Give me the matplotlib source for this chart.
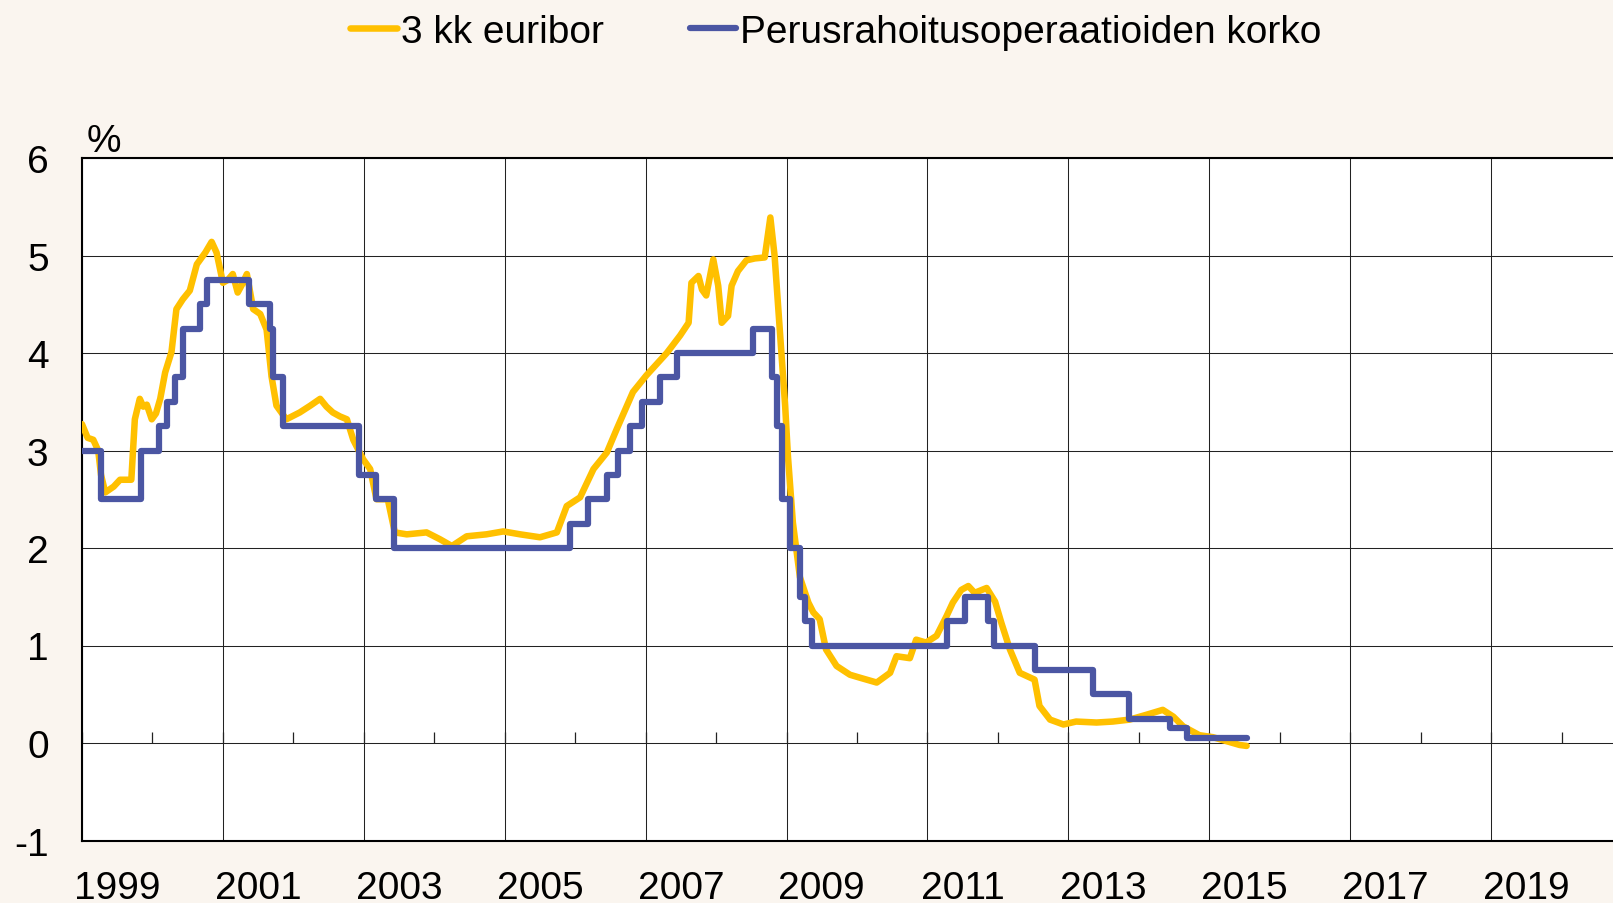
# --------------------------------------------------
# 3 kk euribor vs. EKP:n perusrahoitusoperaatioiden korko
# --------------------------------------------------

import matplotlib
matplotlib.use("Agg")
import matplotlib.pyplot as plt
import pandas as pd


# --------------------------------------------------
# DATA
# --------------------------------------------------

# 3 kk euribor (decimal year, %)
euribor_t = [
    1999.00, 1999.08, 1999.16, 1999.23, 1999.27, 1999.33, 1999.45, 1999.54,
    1999.70, 1999.75, 1999.82, 1999.87, 1999.92, 1999.99, 2000.05, 2000.11,
    2000.18, 2000.27, 2000.34, 2000.43, 2000.53, 2000.63, 2000.75, 2000.84,
    2000.91, 2001.00, 2001.07, 2001.14, 2001.21, 2001.27, 2001.34, 2001.43,
    2001.53, 2001.62, 2001.69, 2001.76, 2001.90, 2002.09, 2002.24, 2002.38,
    2002.47, 2002.56, 2002.66, 2002.76, 2002.85, 2002.99, 2003.09, 2003.18,
    2003.34, 2003.44, 2003.61, 2003.89, 2004.08, 2004.25, 2004.46, 2004.74,
    2004.98, 2005.22, 2005.50, 2005.74, 2005.88, 2006.07, 2006.26, 2006.45,
    2006.59, 2006.82, 2007.01, 2007.30, 2007.49, 2007.61, 2007.65, 2007.75,
    2007.80, 2007.86, 2007.96, 2008.03, 2008.08, 2008.17, 2008.22, 2008.31,
    2008.43, 2008.55, 2008.69, 2008.77, 2008.83, 2008.88, 2008.93, 2008.98,
    2009.02, 2009.09, 2009.19, 2009.31, 2009.38, 2009.47, 2009.56, 2009.71,
    2009.90, 2010.04, 2010.28, 2010.47, 2010.56, 2010.75, 2010.84, 2010.98,
    2011.13, 2011.27, 2011.36, 2011.48, 2011.58, 2011.67, 2011.84, 2011.96,
    2012.05, 2012.17, 2012.31, 2012.52, 2012.59, 2012.74, 2012.93, 2013.11,
    2013.40, 2013.63, 2013.87, 2014.11, 2014.34, 2014.49, 2014.63, 2014.86,
    2015.05, 2015.29, 2015.43, 2015.53,
]
euribor_v = [
    3.27, 3.13, 3.11, 3.00, 2.75, 2.57, 2.63, 2.70,
    2.70, 3.32, 3.53, 3.45, 3.47, 3.32, 3.38, 3.53,
    3.80, 4.01, 4.45, 4.55, 4.64, 4.91, 5.03, 5.14,
    5.03, 4.72, 4.75, 4.81, 4.62, 4.70, 4.81, 4.45,
    4.40, 4.24, 3.76, 3.46, 3.32, 3.39, 3.46, 3.53,
    3.45, 3.39, 3.35, 3.32, 3.11, 2.91, 2.81, 2.50,
    2.50, 2.16, 2.14, 2.16, 2.09, 2.02, 2.12, 2.14,
    2.17, 2.14, 2.11, 2.16, 2.43, 2.52, 2.81, 2.98,
    3.22, 3.60, 3.77, 4.00, 4.18, 4.31, 4.72, 4.79,
    4.65, 4.59, 4.96, 4.69, 4.31, 4.38, 4.69, 4.84,
    4.95, 4.97, 4.98, 5.39, 5.00, 4.48, 3.97, 3.46,
    2.94, 2.26, 1.70, 1.44, 1.34, 1.27, 0.96, 0.79,
    0.70, 0.67, 0.62, 0.72, 0.89, 0.87, 1.06, 1.03,
    1.10, 1.30, 1.44, 1.57, 1.61, 1.54, 1.59, 1.45,
    1.23, 0.96, 0.72, 0.65, 0.38, 0.24, 0.19, 0.22,
    0.21, 0.22, 0.24, 0.29, 0.34, 0.27, 0.17, 0.08,
    0.06, 0.01, -0.02, -0.03,
]

# EKP:n perusrahoitusoperaatioiden korko (voimaantulopäivä, %)
ecb_dates = [
    "1999-01-01", "1999-04-09", "1999-11-05", "2000-02-04", "2000-03-17",
    "2000-04-28", "2000-06-09", "2000-09-06", "2000-10-11", "2001-05-15",
    "2001-08-31", "2001-09-18", "2001-11-09", "2002-12-06", "2003-03-07",
    "2003-06-06", "2005-12-06", "2006-03-08", "2006-06-15", "2006-08-09",
    "2006-10-11", "2006-12-13", "2007-03-14", "2007-06-13", "2008-07-09",
    "2008-10-15", "2008-11-12", "2008-12-10", "2009-01-21", "2009-03-11",
    "2009-04-08", "2009-05-13", "2011-04-13", "2011-07-13", "2011-11-09",
    "2011-12-14", "2012-07-11", "2013-05-08", "2013-11-13", "2014-06-11",
    "2014-09-10", "2015-07-13",
]
ecb_rate = [
    3.00, 2.50, 3.00, 3.25, 3.50,
    3.75, 4.25, 4.50, 4.75, 4.50,
    4.25, 3.75, 3.25, 2.75, 2.50,
    2.00, 2.25, 2.50, 2.75, 3.00,
    3.25, 3.50, 3.75, 4.00, 4.25,
    3.75, 3.25, 2.50, 2.00, 1.50,
    1.25, 1.00, 1.25, 1.50, 1.25,
    1.00, 0.75, 0.50, 0.25, 0.15,
    0.05, 0.05,
]

year_labels = [str(y) for y in range(1999, 2021, 2)]
y_ticks = list(range(-1, 7))


def dec_year(s):
    """Date string -> decimal year."""
    d = pd.Timestamp(s)
    days = 366 if d.is_leap_year else 365
    return d.year + (d.dayofyear - 1) / days


ecb_t = [dec_year(s) for s in ecb_dates]


# --------------------------------------------------
# PLOT
# --------------------------------------------------

plt.rcParams['font.family'] = ['Liberation Sans', 'DejaVu Sans']
plt.rcParams['font.size'] = 28

bg = '#faf5ef'
yellow = '#ffc000'
blue = '#4b56a3'

W, H = 1613, 904
fig = plt.figure(figsize=(W / 100, H / 100), dpi=100, facecolor=bg)
ax = fig.add_axes([82 / W, 1 - 841.5 / H, (1632 - 82) / W, (841.5 - 159) / H])
ax.set_facecolor('white')

ax.plot(euribor_t, euribor_v, color=yellow, lw=4.7,
        solid_joinstyle='round', solid_capstyle='round',
        label='3 kk euribor', zorder=3)
ax.plot(ecb_t, ecb_rate, color=blue, lw=4.5, drawstyle='steps-post',
        solid_capstyle='round', label='Perusrahoitusoperaatioiden korko',
        zorder=4)

ax.set_xlim(1999, 2021)
ax.set_ylim(-1, 6)

# gridlines at every other year, labels centred within the year
ax.set_xticks(range(1999, 2022, 2))
ax.set_xticklabels([])
ax.set_xticks([int(y) + 0.5 for y in year_labels], minor=True)
ax.set_xticklabels(year_labels, minor=True)
ax.tick_params(axis='x', which='both', length=0, pad=21)

ax.set_yticks(y_ticks)
ax.set_yticklabels([str(v) for v in y_ticks])
ax.tick_params(axis='y', length=0, pad=24)

ax.grid(True, which='major', color='#222222', lw=0.75)
ax.set_axisbelow(True)

for side in ['left', 'bottom', 'top']:
    ax.spines[side].set_linewidth(1.5)
    ax.spines[side].set_color('black')
ax.spines['right'].set_visible(False)

# small year ticks on the zero line
zero_axis = ax.secondary_xaxis(1 / 7)
zero_axis.set_xticks(range(1999, 2022))
zero_axis.set_xticklabels([])
zero_axis.tick_params(direction='in', length=8, width=0.9, color='#222222')
zero_axis.spines['bottom'].set_visible(False)
zero_axis.spines['top'].set_visible(False)

ax.annotate('%', xy=(0, 1), xycoords='axes fraction', xytext=(3, 5),
            textcoords='offset points', ha='left', va='baseline')

fig.legend(loc='center', bbox_to_anchor=(836 / W, 1 - 33 / H), ncol=2,
           frameon=False, handlelength=1.2, handletextpad=0.1,
           columnspacing=2.2, borderpad=0, fontsize=28)

fig.savefig('out.png', dpi=100, facecolor=bg)
